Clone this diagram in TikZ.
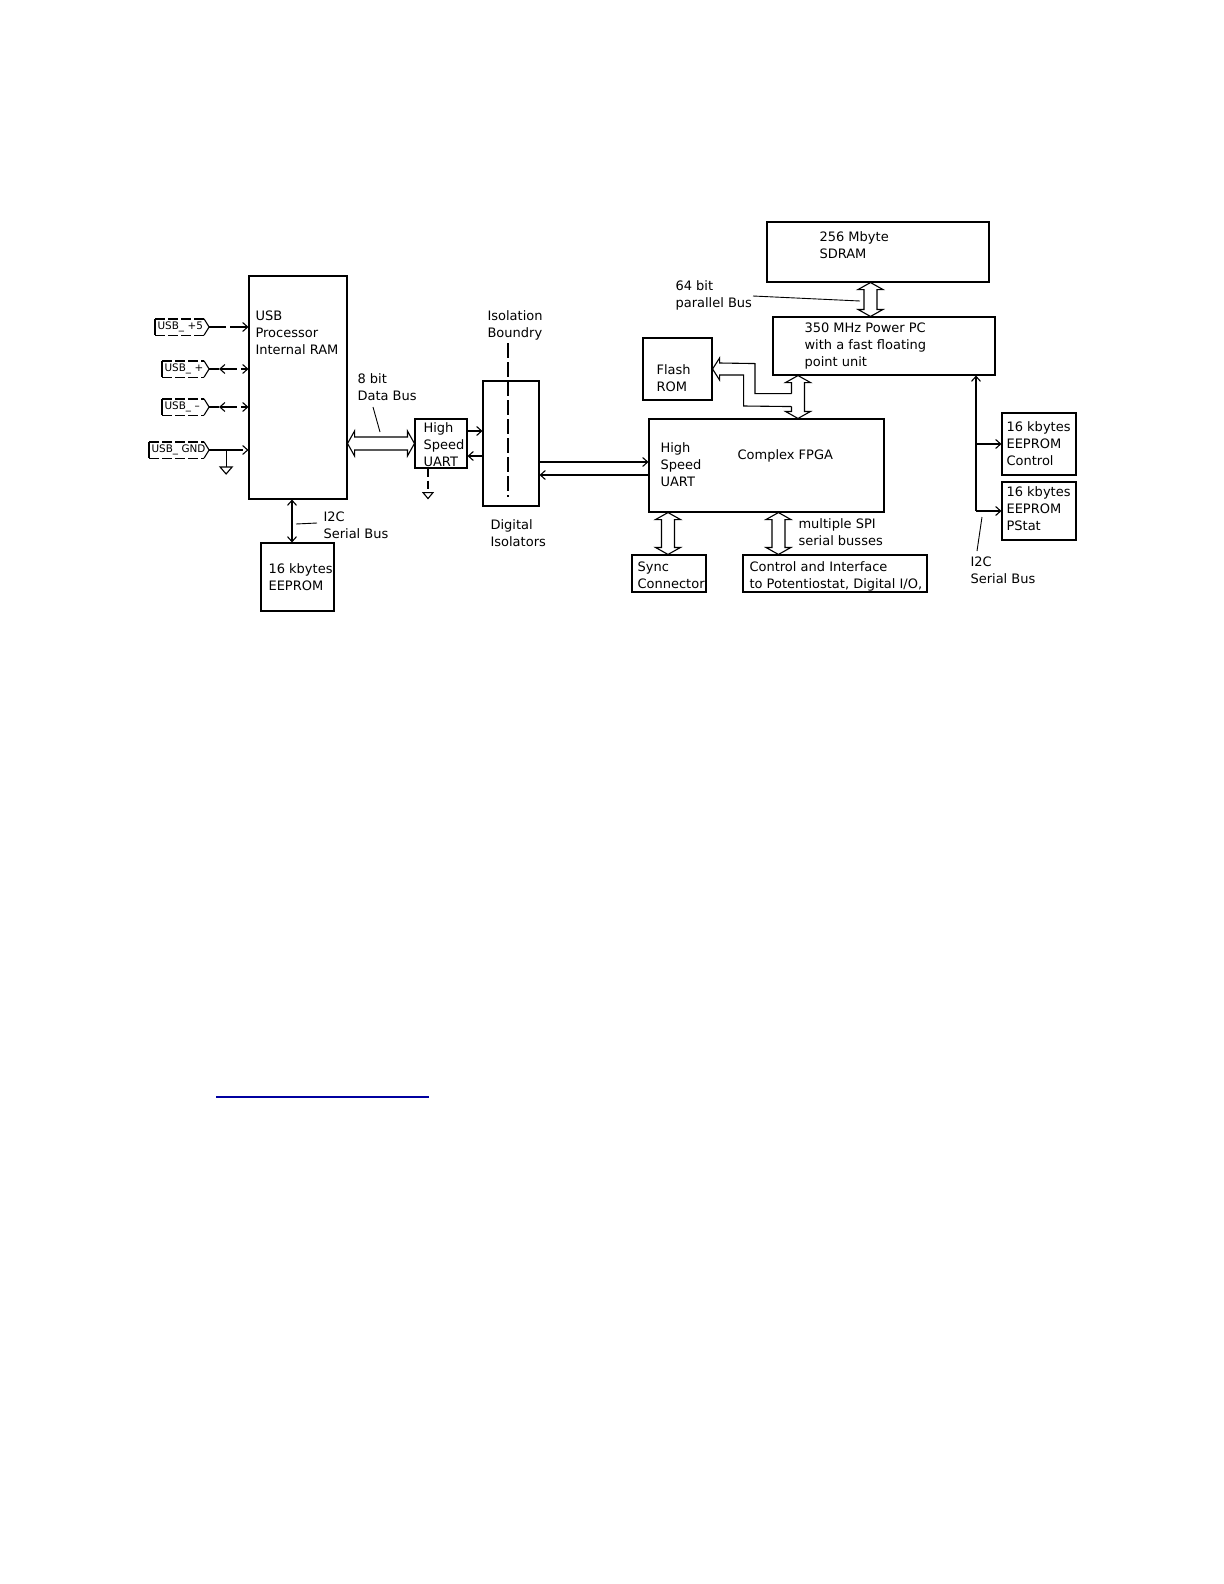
\documentclass[tikz,border=0pt]{standalone}
\usepackage{fontspec}
\setmainfont{DejaVu Sans}
\usetikzlibrary{arrows.meta,calc,fit}
\definecolor{linkblue}{RGB}{0,0,160}
% hollow double-headed bus arrows (horizontal / vertical)
\newcommand{\HDbl}[2]{\draw[bus] (#1) -- ($(#1)+(7,-12.5)$) -- ($(#1)+(7,-6.5)$) -- ($(#2)+(-7,-6.5)$) -- ($(#2)+(-7,-12.5)$) -- (#2) -- ($(#2)+(-7,12.5)$) -- ($(#2)+(-7,6.5)$) -- ($(#1)+(7,6.5)$) -- ($(#1)+(7,12.5)$) -- cycle;}
\newcommand{\VDbl}[2]{\draw[bus] (#1) -- ($(#1)+(-12.5,7)$) -- ($(#1)+(-6.5,7)$) -- ($(#2)+(-6.5,-7)$) -- ($(#2)+(-12.5,-7)$) -- (#2) -- ($(#2)+(12.5,-7)$) -- ($(#2)+(6.5,-7)$) -- ($(#1)+(6.5,7)$) -- ($(#1)+(12.5,7)$) -- cycle;}
\begin{document}
\begin{tikzpicture}[x=0.5bp,y=-0.5bp,line width=0.55bp,
  >={Straight Barb[length=2.5bp,width=4.5bp]},
  box/.style={draw,inner sep=0pt,fit={#1}},
  txt/.style={font=\fontsize{6.5bp}{8.5bp}\selectfont,align=left,inner sep=0pt,anchor=base west},
  conn/.style={font=\fontsize{5.2bp}{5.5bp}\selectfont,align=left,inner xsep=1bp,inner ysep=0pt,minimum height=7.5bp,anchor=west},
  cdash/.style={dash pattern=on 5bp off 1.5bp},
  cline/.style={dash pattern=on 8.5bp off 2bp},
  bus/.style={line join=miter},
  leader/.style={line width=0.45bp}]
\fill[white] (0,0) rectangle (1224,1584);
\useasboundingbox (0,0) rectangle (1224,1584);

% ---------- boxes ----------
\node[box={(249,276) (347,499)}] (usb) {};
\node[box={(261,543) (334,611)}] (ee1) {};
\node[box={(415,419) (467,468)}] (uart) {};
\node[box={(483,381) (539,506)}] (iso) {};
\node[box={(643,338) (712,400)}] (flash) {};
\node[box={(649,419) (884,512)}] (fpga) {};
\node[box={(767,222) (989,282)}] (sdram) {};
\node[box={(773,317) (995,375)}] (ppc) {};
\node[box={(632,555) (706,592)}] (sync) {};
\node[box={(743,555) (927,592)}] (ctrl) {};
\node[box={(1002,413) (1076,475)}] (eeC) {};
\node[box={(1002,482) (1076,540)}] (eeP) {};

% ---------- texts (anchored at the baseline of the last line) ----------
\node[txt] (usbT) at (255,354) {USB\\Processor\\Internal RAM};
\node[txt] (ee1T) at (268,590) {16 kbytes\\EEPROM};
\node[txt] (i2cLT) at (323,538) {I2C\\Serial Bus};
\node[txt] (bus8T) at (357,400) {8 bit\\Data Bus};
\node[txt] (uartT) at (423,466) {High\\Speed\\UART};
\node[txt] (isoBT) at (487,337) {Isolation\\Boundry};
\node[txt] (isoT) at (490,546) {Digital\\Isolators};
\node[txt] (fpgaUT) at (660,486) {High\\Speed\\UART};
\node[txt] (fpgaT) at (737,459) {Complex FPGA};
\node[txt] (flashT) at (656,391) {Flash\\ROM};
\node[txt] (sdT) at (819,258) {256 Mbyte\\SDRAM};
\node[txt] (ppcT) at (804,366) {350 MHz Power PC\\with a fast floating\\point unit};
\node[txt] (b64T) at (675,307) {64 bit\\parallel Bus};
\node[txt] (eeCT) at (1006,465) {16 kbytes\\EEPROM\\Control};
\node[txt] (eePT) at (1006,530) {16 kbytes\\EEPROM\\PStat};
\node[txt] (i2cRT) at (970,583) {I2C\\Serial Bus};
\node[txt] (syncT) at (637,588) {Sync\\Connector};
\node[txt] (ctrlT) at (749,588) {Control and Interface\\to Potentiostat, Digital I/O,};
\node[txt] (spiT) at (798,545) {multiple SPI\\serial busses};

% ---------- USB connector symbols ----------
\node[conn,text width=24.5bp] (cp5) at (155,327) {USB\_ +5};
\node[conn,text width=21bp] (cpp) at (162,369) {USB\_ +};
\node[conn,text width=21bp] (cpm) at (162,407) {USB\_ –};
\node[conn,text width=27.5bp] (cgnd) at (149,450) {USB\_ GND};
\foreach \n in {cp5,cpp,cpm,cgnd}{
  \draw[cdash] (\n.north west) -- ([xshift=-2.5bp]\n.north east);
  \draw[cdash] (\n.south west) -- ([xshift=-2.5bp]\n.south east);
  \draw (\n.north west) -- (\n.south west);
  \draw ([xshift=-2.5bp]\n.north east) -- (\n.east) -- ([xshift=-2.5bp]\n.south east);
}
\draw[cline,->] (cp5.east) -- (cp5.east -| usb.west);
\path (cpp.east) ++(10,0) coordinate (cppA);
\path (cpm.east) ++(10,0) coordinate (cpmA);
\draw (cpp.east) -- (cppA);
\draw (cpm.east) -- (cpmA);
\draw[cline,<->] (cppA) -- (cppA -| usb.west);
\draw[cline,<->] (cpmA) -- (cpmA -| usb.west);
\path (cgnd.east) ++(17,0) coordinate (gndJ);
\draw (cgnd.east) -- (gndJ);
\draw[cline,->] (gndJ) -- (gndJ -| usb.west);
\draw (gndJ) -- ++(0,17) coordinate (gndT);
\draw ($(gndT)+(-6,0)$) -- ($(gndT)+(6,0)$) -- ($(gndT)+(0,7)$) -- cycle;

% ---------- I2C to left EEPROM ----------
\path (usb.south) ++(-6,0) coordinate (l0);
\draw[<->] (l0) -- (l0 |- ee1.north);
\coordinate (lq1) at (296,524);
\coordinate (lq2) at (317,523);
\draw[leader] (lq1) -- (lq2);

% ---------- 8 bit data bus ----------
\coordinate (b8a) at (usb.east |- uart.west);
\coordinate (b8b) at (uart.west);
\HDbl{b8a}{b8b}
\coordinate (bq1) at (373,407);
\coordinate (bq2) at (380,432);
\draw[leader] (bq1) -- (bq2);

% ---------- UART ground ----------
\path (uart.south) ++(-13,0) coordinate (ug1);
\draw[dash pattern=on 4bp off 2bp] (ug1) -- ++(0,24) coordinate (ug2);
\draw ($(ug2)+(-5,0)$) -- ($(ug2)+(5,0)$) -- ($(ug2)+(0,6)$) -- cycle;

% ---------- UART <-> isolators ----------
\coordinate (u1) at ([yshift=6.25bp]uart.east);
\coordinate (u2) at ([yshift=-6.25bp]uart.east);
\draw[->] (u1) -- (u1 -| iso.west);
\draw[<-] (u2) -- (u2 -| iso.west);

% ---------- isolation boundary ----------
\coordinate (ib1) at (508,343);
\coordinate (ib2) at (508,497);
\draw[dash pattern=on 7.5bp off 2bp] (ib1) -- (ib2);

% ---------- isolators <-> FPGA ----------
\coordinate (f1) at ([yshift=1.75bp]fpga.west);
\coordinate (f2) at ([yshift=-4.75bp]fpga.west);
\draw[->] (f1 -| iso.east) -- (f1);
\draw[->] (f2) -- (f2 -| iso.east);

% ---------- SDRAM <-> PowerPC ----------
\path (sdram.south) ++(-7.5,0) coordinate (sd1);
\coordinate (sd2) at (sd1 |- ppc.north);
\VDbl{sd1}{sd2}
\coordinate (pq1) at (753,296);
\coordinate (pq2) at (860,301);
\draw[leader] (pq1) -- (pq2);

% ---------- PowerPC <-> FPGA, with branch to Flash ROM ----------
\path (ppc.south) ++(-86,0) coordinate (pf1);
\coordinate (pf2) at (pf1 |- fpga.north);
\draw[bus] ($(pf1)+(-6.5,18)$) -- ($(pf1)+(-6.5,7)$) -- ($(pf1)+(-12.5,7)$) -- (pf1) -- ($(pf1)+(12.5,7)$) -- ($(pf1)+(6.5,7)$) -- ($(pf2)+(6.5,-7)$) -- ($(pf2)+(12.5,-7)$) -- (pf2) -- ($(pf2)+(-12.5,-7)$) -- ($(pf2)+(-6.5,-7)$) -- ($(pf1)+(-6.5,31)$);
\draw[bus] ($(pf1)+(-6.5,18)$) -- ++(-36.5,0) -- ++(0,-30) -- ($(flash.east)+(7,-6)$) -- ($(flash.east)+(7,-11)$) -- (flash.east) -- ($(flash.east)+(7,11)$) -- ($(flash.east)+(7,6)$) -- ++(24,0) -- ++(0,31) -- ($(pf1)+(-6.5,31)$);

% ---------- FPGA <-> Sync / Control ----------
\coordinate (sy2) at ([xshift=-0.5bp]sync.north);
\coordinate (sy1) at (sy2 |- fpga.south);
\VDbl{sy1}{sy2}
\path (ctrl.north west) ++(36,0) coordinate (sp2);
\coordinate (sp1) at (sp2 |- fpga.south);
\VDbl{sp1}{sp2}

% ---------- right I2C bus ----------
\path (ppc.south) ++(92,0) coordinate (r0);
\coordinate (j1) at (r0 |- eeC.west);
\coordinate (j2) at (r0 |- eeP.west);
\draw[<-] (r0) -- (j2);
\draw[->] (j1) -- (eeC.west);
\draw[->] (j2) -- (eeP.west);
\coordinate (rq1) at (982,517);
\coordinate (rq2) at (977,551);
\draw[leader] (rq1) -- (rq2);

% ---------- hyperlink underline ----------
\coordinate (hl1) at (216,1097);
\coordinate (hl2) at (429,1097);
\draw[linkblue,line width=1bp] (hl1) -- (hl2);
\end{tikzpicture}
\end{document}
